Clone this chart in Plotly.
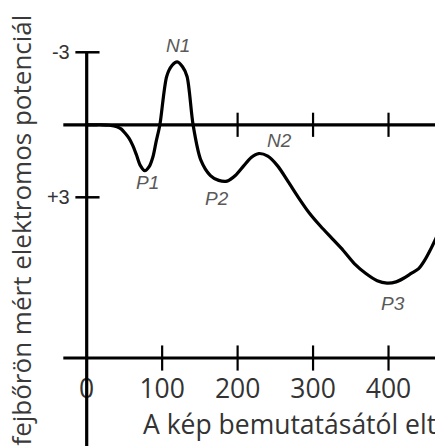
import plotly.graph_objects as go

# ERP waveform (time in ms, potential in µV; negative plotted upward)
time_ms = [0, 10, 20, 30, 40, 46, 51, 56, 61, 66, 71, 77, 83, 88, 92, 97, 106, 113, 120,
           127, 133, 141, 151, 164, 175, 186, 197, 208, 218, 228, 240, 253, 267, 280, 295,
           310, 325, 340, 355, 370, 385, 398, 410, 420, 430, 440, 448, 455, 462, 470]
potential_uv = [0, 0, 0, 0.02, 0.08, 0.18, 0.35, 0.55, 0.85, 1.25, 1.68, 1.9, 1.72, 1.3,
                0.7, 0, -2.0, -2.45, -2.6, -2.4, -2.0, 0, 1.44, 2.1, 2.3, 2.33, 2.1, 1.7,
                1.35, 1.19, 1.3, 1.7, 2.35, 2.98, 3.65, 4.2, 4.7, 5.2, 5.75, 6.15, 6.45,
                6.55, 6.5, 6.35, 6.15, 5.95, 5.6, 5.2, 4.75, 4.2]

# Component labels
peak_names = ["N1", "P1", "P2", "N2", "P3"]
peak_label_t = [121, 80, 173, 255, 406]
peak_label_v = [-3.26, 2.40, 3.07, 0.67, 7.41]

# Tick labels
x_tick_vals = [0, 100, 200, 300, 400]
x_tick_text = ["0", "100", "200", "300", "400"]
y_tick_vals = [-3, 3]
y_tick_text = ["-3", "+3"]

x_title = "A kép bemutatásától eltelt idő (ms)"
y_title = "fejbőrön mért elektromos potenciál"

X_RANGE = [-114.9, 461.6]
Y_RANGE = [13.29, -5.163]
BASE_V = 9.65  # level of the lower time axis

fig = go.Figure()
fig.add_trace(go.Scatter(x=time_ms, y=potential_uv, mode="lines",
                         line=dict(color="black", width=3.2, shape="spline", smoothing=0.8),
                         hoverinfo="skip", showlegend=False))

shapes = []
shapes.append(dict(type="line", xref="x", yref="y", x0=0, x1=0, y0=-3, y1=14,
                   line=dict(color="black", width=3.2)))
for lvl in (0, BASE_V):
    shapes.append(dict(type="line", xref="x", yref="y", x0=-31, x1=470, y0=lvl, y1=lvl,
                       line=dict(color="black", width=3.2)))
for v in y_tick_vals:
    shapes.append(dict(type="line", xref="x", yref="y", x0=-15, x1=17, y0=v, y1=v,
                       line=dict(color="black", width=2.5)))
for t in x_tick_vals[1:]:
    shapes.append(dict(type="line", xref="x", yref="y", x0=t, x1=t, y0=BASE_V - 0.52,
                       y1=BASE_V + 0.52, line=dict(color="black", width=2.2)))
    if t >= 200:
        shapes.append(dict(type="line", xref="x", yref="y", x0=t, x1=t, y0=-0.5, y1=0.5,
                           line=dict(color="black", width=2.2)))

annotations = []
for name, t, v in zip(peak_names, peak_label_t, peak_label_v):
    annotations.append(dict(x=t, y=v, xref="x", yref="y", text=name, showarrow=False,
                            font=dict(family="Liberation Sans", size=19, color="#595959",
                                      style="italic"),
                            xanchor="center", yanchor="middle"))
annotations.append(dict(x=71.5, y=12.38, xref="x", yref="y", text=x_title, showarrow=False,
                        font=dict(family="Open Sans", size=26.5, color="#333333"),
                        xanchor="left", yanchor="middle"))
annotations.append(dict(x=-87.5, y=4.35, xref="x", yref="y", text=y_title, showarrow=False,
                        textangle=-90,
                        font=dict(family="Open Sans", size=26, color="#3a3a3a"),
                        xanchor="center", yanchor="middle"))

fig.update_layout(
    width=435, height=446, margin=dict(l=0, r=0, t=0, b=0),
    paper_bgcolor="white", plot_bgcolor="white",
    shapes=shapes, annotations=annotations, showlegend=False,
    xaxis=dict(range=X_RANGE, anchor="free", position=(446 - 358) / 446,
               tickvals=x_tick_vals, ticktext=x_tick_text, ticks="", showline=False,
               showgrid=False, zeroline=False, ticklabelstandoff=12,
               tickfont=dict(family="Open Sans", size=26.5, color="#333333")),
    yaxis=dict(range=Y_RANGE, anchor="free", position=86.7 / 435,
               tickvals=y_tick_vals, ticktext=y_tick_text, ticks="", showline=False,
               showgrid=False, zeroline=False, ticklabelstandoff=17,
               tickfont=dict(family="Liberation Sans", size=20, color="#333333")),
)

fig.write_html("out.html", config={"displayModeBar": False},
               post_script="document.body.style.margin='0px';document.body.style.overflow='hidden';")
